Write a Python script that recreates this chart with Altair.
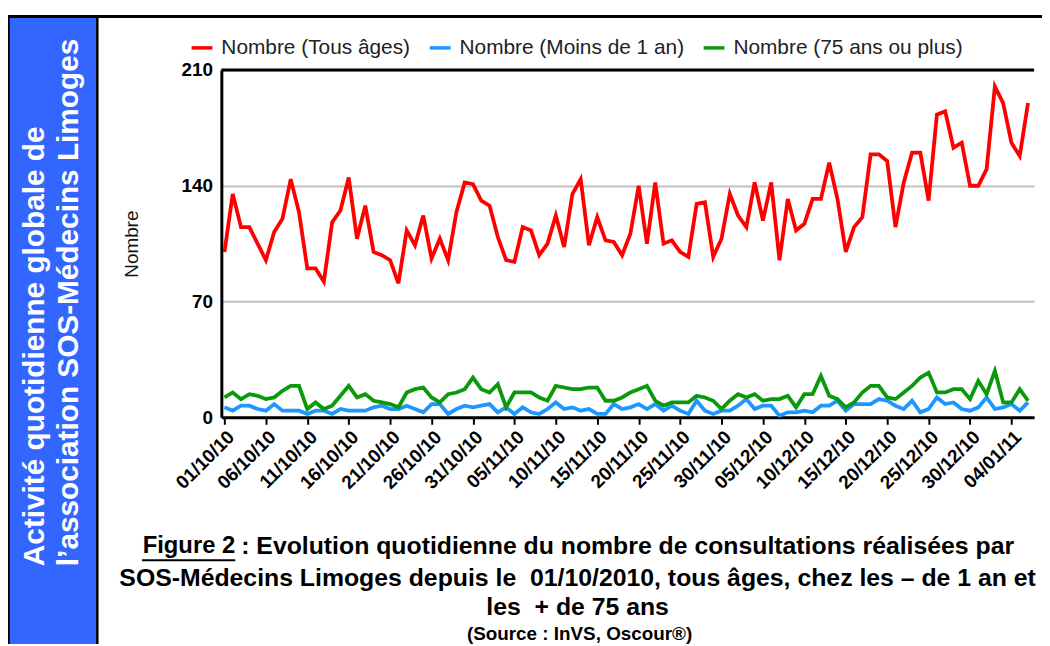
import altair as alt
import pandas as pd

# ---------------- data ----------------
start_date = "2010-10-01"
tous_ages = [100, 135, 115, 115, 105, 95, 112, 120, 144, 124,
             90, 90, 82, 118, 125, 145, 108, 128, 100, 98,
             95, 81, 113, 104, 122, 96, 108, 95, 124, 142,
             141, 131, 128, 109, 95, 94, 115, 113, 98, 105,
             122, 103, 135, 144, 104, 121, 107, 106, 98, 111,
             140, 105, 142, 105, 107, 100, 97, 129, 130, 97,
             108, 135, 122, 115, 142, 119, 142, 95, 132, 113,
             117, 132, 132, 154, 132, 100, 115, 121, 159, 159,
             155, 115, 142, 160, 160, 131, 183, 185, 163, 166,
             140, 140, 150, 200, 190, 166, 158, 190]
moins_1_an = [6, 4, 7, 7, 5, 4, 8, 4, 4, 4,
              2, 4, 4, 2, 5, 4, 4, 4, 6, 7,
              5, 5, 7, 5, 3, 8, 8, 2, 5, 7,
              6, 7, 8, 3, 6, 2, 6, 3, 2, 5,
              9, 5, 6, 4, 5, 2, 2, 8, 5, 6,
              8, 5, 8, 4, 7, 4, 2, 10, 4, 2,
              4, 4, 7, 11, 5, 7, 7, 1, 3, 3,
              4, 3, 7, 7, 10, 4, 8, 8, 8, 11,
              10, 7, 5, 10, 3, 5, 12, 8, 9, 5,
              4, 6, 12, 5, 6, 8, 4, 9]
plus_75_ans = [12, 15, 11, 14, 13, 11, 12, 16, 19, 19,
               5, 9, 5, 7, 13, 19, 12, 14, 10, 9,
               8, 6, 15, 17, 18, 12, 9, 14, 15, 17,
               24, 17, 15, 20, 6, 15, 15, 15, 12, 10,
               19, 18, 17, 17, 18, 18, 10, 10, 12, 15,
               17, 19, 10, 7, 9, 9, 9, 13, 12, 10,
               5, 10, 14, 12, 14, 10, 11, 11, 13, 6,
               14, 14, 25, 13, 11, 6, 9, 15, 19, 19,
               12, 11, 15, 19, 24, 27, 15, 15, 17, 17,
               11, 22, 14, 28, 9, 9, 17, 10]

series_names = ["Nombre (Tous âges)", "Nombre (Moins de 1 an)", "Nombre (75 ans ou plus)"]
series_colors = ["#FF0000", "#1E96FF", "#0A990A"]
y_ticks = [0, 70, 140, 210]
x_tick_dates = ["2010-10-01", "2010-10-06", "2010-10-11", "2010-10-16", "2010-10-21",
                "2010-10-26", "2010-10-31", "2010-11-05", "2010-11-10", "2010-11-15",
                "2010-11-20", "2010-11-25", "2010-11-30", "2010-12-05", "2010-12-10",
                "2010-12-15", "2010-12-20", "2010-12-25", "2010-12-30", "2011-01-04"]

sidebar_lines = ["Activité quotidienne globale de", "l’association SOS-Médecins Limoges"]
caption_fig = "Figure 2"
caption_line1 = ": Evolution quotidienne du nombre de consultations réalisées par"
caption_lines = ["SOS-Médecins Limoges depuis le\u00a0 01/10/2010, tous âges, chez les – de 1 an et",
                 "les\u00a0 + de 75 ans"]
source_line = "(Source : InVS, Oscour®)"

# ---------------- table ----------------
dates = pd.date_range(start_date, periods=len(tous_ages), freq="D")
rows = []
for name, vals in zip(series_names, [tous_ages, moins_1_an, plus_75_ans]):
    for d, v in zip(dates, vals):
        rows.append({"date": d.strftime("%Y-%m-%dT00:00:00"), "serie": name, "valeur": v})
df = pd.DataFrame(rows)


def dt(s, hours=0, minutes=0):
    t = pd.Timestamp(s)
    return alt.DateTime(year=t.year, month=t.month, date=t.day, hours=hours, minutes=minutes)


W, H = 819, 350
TOTAL_H = 636
FONT = "Liberation Sans"

x_enc = alt.X(
    "date:T",
    title=None,
    scale=alt.Scale(domain=[dt("2010-09-30", 15), dt("2011-01-06", 17, 30)]),
    axis=alt.Axis(values=[dt(s) for s in x_tick_dates], format="%d/%m/%y",
                  labelAngle=-45, labelFont=FONT, labelFontWeight="bold",
                  labelFontSize=19, labelColor="black", labelPadding=3,
                  labelOverlap=False, labelFlush=False,
                  domainColor="black", domainWidth=3,
                  tickColor="black", tickWidth=2, tickSize=7, grid=False),
)
y_enc = alt.Y(
    "valeur:Q",
    scale=alt.Scale(domain=[0, 210], nice=False),
    axis=alt.Axis(values=y_ticks, title="Nombre", titleFont=FONT, titleFontWeight="normal",
                  titleFontSize=19, titleColor="#111111", titleAngle=270,
                  titleX=-90, titleY=H / 2, titleAlign="center", titleBaseline="middle",
                  labelFont=FONT, labelFontWeight="bold", labelFontSize=19,
                  labelColor="black", labelPadding=9, ticks=False,
                  domainColor="black", domainWidth=3,
                  grid=True, gridColor="#C0C0C0", gridWidth=2),
)

lines = alt.Chart(df).mark_line(strokeWidth=3.8).encode(
    x=x_enc,
    y=y_enc,
    color=alt.Color("serie:N",
                    scale=alt.Scale(domain=series_names, range=series_colors),
                    sort=series_names,
                    legend=alt.Legend(orient="none", legendX=-32, legendY=-35,
                                      direction="horizontal", title=None,
                                      symbolType="stroke", symbolSize=440,
                                      symbolStrokeWidth=3.5, labelFont=FONT,
                                      labelFontSize=21, labelColor="#222222",
                                      labelOffset=7, columnPadding=12,
                                      padding=0, labelLimit=0)),
)

top_rule = alt.Chart(pd.DataFrame({"v": [y_ticks[-1]]})).mark_rule(
    color="black", strokeWidth=3).encode(y=alt.Y("v:Q", scale=alt.Scale(domain=[0, 210], nice=False)))

one = pd.DataFrame({"a": [0]})

sidebar = alt.Chart(one).mark_rect(color="#3366FF").encode(
    x=alt.value(-214), x2=alt.value(-126), y=alt.value(-54), y2=alt.value(600))
border_top = alt.Chart(one).mark_rule(color="black", strokeWidth=3).encode(
    x=alt.value(-216), x2=alt.value(830), y=alt.value(-54))
border_left = alt.Chart(one).mark_rule(color="black", strokeWidth=2.5).encode(
    x=alt.value(-214.5), y=alt.value(-55), y2=alt.value(600))
border_side = alt.Chart(one).mark_rule(color="black", strokeWidth=2.5).encode(
    x=alt.value(-125), y=alt.value(-55), y2=alt.value(600))

side_texts = []
for txt, xv in zip(sidebar_lines, [-188, -153]):
    side_texts.append(
        alt.Chart(pd.DataFrame({"t": [txt]})).mark_text(
            angle=270, align="left", baseline="middle", font=FONT, fontSize=30,
            fontWeight="bold", color="white").encode(
            text="t:N", x=alt.value(xv), y=alt.value(500)))

cap_font = 25
cap_fig = alt.Chart(pd.DataFrame({"t": [caption_fig]})).mark_text(
    align="right", baseline="middle", font=FONT, fontSize=cap_font - 1, fontWeight="bold",
    color="black").encode(text="t:N", x=alt.value(14), y=alt.value(480))
cap_underline = alt.Chart(one).mark_rule(color="black", strokeWidth=2).encode(
    x=alt.value(-80), x2=alt.value(14), y=alt.value(494))
cap_l1 = alt.Chart(pd.DataFrame({"t": [caption_line1]})).mark_text(
    align="left", baseline="middle", font=FONT, fontSize=cap_font, fontWeight="bold",
    color="black").encode(text="t:N", x=alt.value(20), y=alt.value(480))
cap_others = []
for txt, yv in zip(caption_lines, [512, 541]):
    cap_others.append(
        alt.Chart(pd.DataFrame({"t": [txt]})).mark_text(
            align="center", baseline="middle", font=FONT, fontSize=cap_font,
            fontWeight="bold", color="black").encode(
            text="t:N", x=alt.value(359), y=alt.value(yv)))
cap_source = alt.Chart(pd.DataFrame({"t": [source_line]})).mark_text(
    align="center", baseline="middle", font=FONT, fontSize=19, fontWeight="bold",
    color="black").encode(text="t:N", x=alt.value(361), y=alt.value(568))

chart = alt.layer(
    sidebar, border_top, border_left, border_side, *side_texts,
    lines, top_rule,
    cap_fig, cap_underline, cap_l1, *cap_others, cap_source,
).properties(
    width=W, height=H,
    autosize=alt.AutoSizeParams(type="none"),
    padding={"left": 215, "top": 60, "right": 8, "bottom": TOTAL_H - 60 - H},
    background="white",
).configure_view(stroke=None)

chart.save("out.html", embed_options={"renderer": "svg", "actions": False})
